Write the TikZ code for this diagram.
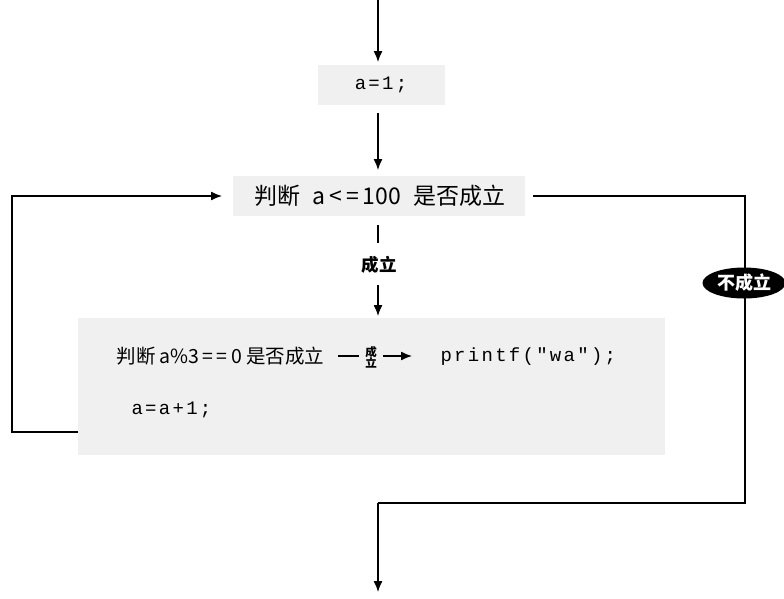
\documentclass[tikz,border=0pt]{standalone}
\usepackage{fontspec}
\setmainfont{Noto Sans CJK SC}
\newfontfamily\monof[LetterSpace=12]{Liberation Mono}
\usetikzlibrary{arrows.meta,shapes.geometric}
\definecolor{boxgray}{gray}{0.94}
\begin{document}
\begin{tikzpicture}[x=1pt,y=-1pt,
  conn/.style={line width=1.3pt,black},
  arr/.style={conn,-{Latex[length=11pt,width=9pt]}},
  graybox/.style={fill=boxgray,draw=none},
  cjk/.style={font=\fontsize{23}{26}\selectfont},
  cjks/.style={font=\fontsize{19.5}{23}\selectfont},
  code/.style={font=\monof\fontsize{19}{22}\selectfont},
  tag/.style={font=\bfseries\fontsize{17.5}{20}\selectfont},
]
\useasboundingbox (0,0) rectangle (784,598);
% boxes
\node[graybox,minimum width=127pt,minimum height=40pt] (b1) at (381,85) {};
\node[code] (t1) at (381,85) {a=1;};
\node[graybox,minimum width=292pt,minimum height=40pt] (b2) at (379,196) {};
\node[cjk] (t2) at (380,196) {判断\hspace{12pt}a\,<\,=\,100\hspace{12pt}是否成立};
\node[graybox,minimum width=587pt,minimum height=137pt] (b3) at (371.5,386.5) {};
\node[cjks,anchor=west] (t3) at (113,356) {判断 a\%3\,=\,=\,0 是否成立};
\node[code,anchor=west] (t4) at (437,357) {printf("wa");};
\node[code,anchor=west] (t5) at (128,410) {a=a+1;};
% coordinates
\coordinate (top) at (378,0);
\coordinate (a1) at (378,62);
\coordinate (s2) at (378,113);
\coordinate (a2) at (378,170);
\coordinate (s3a) at (378,225);
\coordinate (s3b) at (378,243);
\node[tag] (ok) at (379,265) {成立};
\coordinate (s3c) at (378,285);
\coordinate (a3) at (378,316);
\coordinate (lstart) at (78,432);
\coordinate (lc1) at (12,432);
\coordinate (lc2) at (12,196);
\coordinate (lend) at (222,196);
\coordinate (rstart) at (533,196);
\coordinate (rc1) at (745,196);
\coordinate (rc2) at (745,503);
\coordinate (rc3) at (378,503);
\coordinate (bot) at (378,592);
% small branch
\coordinate (d1) at (338,356);
\coordinate (d2) at (359,356);
\node[font=\bfseries\fontsize{11.5}{12}\selectfont,align=center,inner sep=0pt] (ok2) at (371,357) {成\\[-1pt]立};
\coordinate (d3) at (383,356);
\coordinate (d4) at (412,356);
% connectors
\draw[arr] (top) -- (a1);
\draw[arr] (s2) -- (a2);
\draw[conn] (s3a) -- (s3b);
\draw[arr] (s3c) -- (a3);
\draw[arr] (lstart) -- (lc1) -- (lc2) -- (lend);
\draw[conn] (rstart) -- (rc1) -- (rc2) -- (rc3);
\draw[arr] (rc3) -- (bot);
\node[ellipse,fill=black,text=white,font=\bfseries\fontsize{18}{20}\selectfont,inner sep=0pt,minimum width=83pt,minimum height=31pt] (no) at (744,283) {不成立};
\draw[conn] (d1) -- (d2);
\draw[arr] (d3) -- (d4);
\end{tikzpicture}
\end{document}
